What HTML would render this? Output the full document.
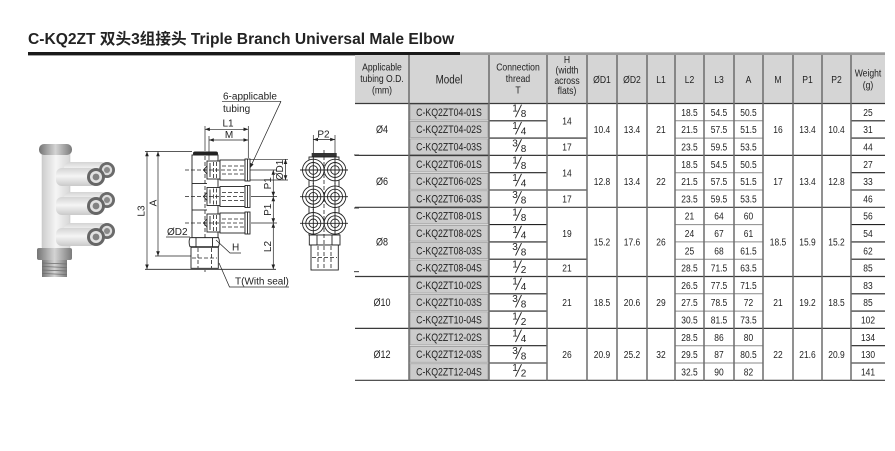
<!DOCTYPE html>
<html>
<head>
<meta charset="utf-8">
<style>
html,body{margin:0;padding:0;background:#fff;}
svg{display:block;}
.f{font-family:"Liberation Sans","Noto Sans CJK SC",sans-serif;fill:#222;}
.ln{stroke:#222;stroke-width:0.9;fill:none;}
.lw{stroke:#222;stroke-width:0.9;fill:#fff;}
.ds{stroke:#222;stroke-width:0.8;stroke-dasharray:4 2;fill:none;}
.dim{stroke:#222;stroke-width:0.7;fill:none;}
</style>
</head>
<body>
<svg width="895" height="451" viewBox="0 0 895 451" xmlns="http://www.w3.org/2000/svg">
<defs>
<marker id="ar" viewBox="0 0 8 6" refX="8" refY="3" markerWidth="5" markerHeight="3.6" orient="auto-start-reverse" markerUnits="userSpaceOnUse"><path d="M0,0 L8,3 L0,6z" fill="#222"/></marker>
<linearGradient id="gb" x1="0" y1="0" x2="1" y2="0"><stop offset="0" stop-color="#cdcdcd"/><stop offset="0.5" stop-color="#f5f5f5"/><stop offset="1" stop-color="#d6d6d6"/></linearGradient>
<linearGradient id="gv" x1="0" y1="0" x2="0" y2="1"><stop offset="0" stop-color="#d4d4d4"/><stop offset="0.45" stop-color="#f5f5f5"/><stop offset="1" stop-color="#cacaca"/></linearGradient>
<linearGradient id="gm" x1="0" y1="0" x2="1" y2="0"><stop offset="0" stop-color="#747474"/><stop offset="0.5" stop-color="#d4d4d4"/><stop offset="1" stop-color="#7a7a7a"/></linearGradient>
</defs>
<rect width="895" height="451" fill="#fff"/>

<!-- Title -->
<text class="f" x="28" y="44" font-size="15.6" font-weight="bold" fill="#1a1a1a">C-KQ2ZT 双头3组接头 Triple Branch Universal Male Elbow</text>
<rect x="28" y="52" width="432" height="3.4" fill="#1a1a1a"/>
<rect x="460" y="52.3" width="425" height="2.8" fill="#9a9a9a"/>

<!-- Photo -->
<g>
<rect x="42" y="150" width="28" height="100" rx="3" fill="url(#gb)" stroke="#c4c4c4" stroke-width="0.5"/>
<rect x="39" y="144" width="33" height="11" rx="5" fill="url(#gm)"/>
<!-- row 1 -->
<rect x="64" y="162" width="43" height="16" rx="6" fill="url(#gv)"/>
<circle cx="107" cy="170" r="8" fill="#6a6a6a"/><circle cx="107" cy="170" r="5.2" fill="#dcdcdc"/><circle cx="107" cy="170" r="3" fill="#8a8a8a"/>
<rect x="56" y="168" width="40" height="18" rx="6" fill="url(#gv)"/>
<circle cx="96" cy="177" r="9" fill="#666"/><circle cx="96" cy="177" r="6" fill="#e2e2e2"/><circle cx="96" cy="177" r="3.4" fill="#828282"/>
<!-- row 2 -->
<rect x="64" y="192" width="43" height="16" rx="6" fill="url(#gv)"/>
<circle cx="107" cy="200" r="8" fill="#6a6a6a"/><circle cx="107" cy="200" r="5.2" fill="#dcdcdc"/><circle cx="107" cy="200" r="3" fill="#8a8a8a"/>
<rect x="56" y="197" width="40" height="18" rx="6" fill="url(#gv)"/>
<circle cx="96" cy="206" r="9" fill="#666"/><circle cx="96" cy="206" r="6" fill="#e2e2e2"/><circle cx="96" cy="206" r="3.4" fill="#828282"/>
<!-- row 3 -->
<rect x="64" y="223" width="43" height="16" rx="6" fill="url(#gv)"/>
<circle cx="107" cy="231" r="8" fill="#6a6a6a"/><circle cx="107" cy="231" r="5.2" fill="#dcdcdc"/><circle cx="107" cy="231" r="3" fill="#8a8a8a"/>
<rect x="56" y="228" width="40" height="18" rx="6" fill="url(#gv)"/>
<circle cx="96" cy="237" r="9" fill="#666"/><circle cx="96" cy="237" r="6" fill="#e2e2e2"/><circle cx="96" cy="237" r="3.4" fill="#828282"/>
<!-- hex & thread -->
<rect x="37" y="248" width="35" height="12" rx="2" fill="url(#gm)"/>
<rect x="42" y="260" width="25" height="17" fill="url(#gm)"/>
<g stroke="#6f6f6f" stroke-width="0.8"><line x1="42" y1="263" x2="67" y2="264"/><line x1="42" y1="266.5" x2="67" y2="267.5"/><line x1="42" y1="270" x2="67" y2="271"/><line x1="42" y1="273.5" x2="67" y2="274.5"/></g>
</g>

<!-- Middle drawing -->
<g>
<line class="dim" x1="145" y1="151.5" x2="192" y2="151.5"/>
<line class="dim" x1="147" y1="151.5" x2="147" y2="269.3" marker-start="url(#ar)" marker-end="url(#ar)"/>
<line class="dim" x1="158" y1="151.5" x2="158" y2="256" marker-start="url(#ar)" marker-end="url(#ar)"/>
<line class="dim" x1="155" y1="256" x2="191" y2="256"/>
<line class="ln" x1="145" y1="269.3" x2="276" y2="269.3"/>
<text class="f" font-size="10" text-anchor="middle" transform="translate(141,211) rotate(-90)" dy="3.5">L3</text>
<text class="f" font-size="10" text-anchor="middle" transform="translate(153,203) rotate(-90)" dy="3.5">A</text>

<rect class="lw" x="192" y="155" width="26" height="82.7"/>
<rect x="193" y="151.5" width="25" height="4" rx="2" fill="#222"/>
<line class="ln" x1="192" y1="183.5" x2="207" y2="183.5"/>
<line class="ln" x1="192" y1="210" x2="207" y2="210"/>
<line class="ds" x1="205" y1="156" x2="205" y2="272"/>

<g transform="translate(0,170)">
<rect class="lw" x="207" y="-9" width="13" height="18"/>
<path class="ln" d="M207,-4 L203.5,0 L207,4"/>
<line class="ln" x1="210" y1="-7" x2="210" y2="7"/>
<line class="ds" x1="213.5" y1="-8" x2="213.5" y2="8"/>
<line class="ds" x1="216.5" y1="-8" x2="216.5" y2="8"/>
<rect class="lw" x="220" y="-10" width="25" height="20"/>
<line class="ds" x1="222" y1="-4" x2="244" y2="-4"/>
<line class="ds" x1="222" y1="4" x2="244" y2="4"/>
<rect class="lw" x="245" y="-11" width="5" height="22"/>
<line class="ln" x1="247.5" y1="-11" x2="247.5" y2="11"/>
<line class="ds" x1="185" y1="0" x2="245" y2="0"/>
</g>
<g transform="translate(0,196.5)">
<rect class="lw" x="207" y="-9" width="13" height="18"/>
<path class="ln" d="M207,-4 L203.5,0 L207,4"/>
<line class="ln" x1="210" y1="-7" x2="210" y2="7"/>
<line class="ds" x1="213.5" y1="-8" x2="213.5" y2="8"/>
<line class="ds" x1="216.5" y1="-8" x2="216.5" y2="8"/>
<rect class="lw" x="220" y="-10" width="25" height="20"/>
<line class="ds" x1="222" y1="-4" x2="244" y2="-4"/>
<line class="ds" x1="222" y1="4" x2="244" y2="4"/>
<rect class="lw" x="245" y="-11" width="5" height="22"/>
<line class="ln" x1="247.5" y1="-11" x2="247.5" y2="11"/>
<line class="ds" x1="185" y1="0" x2="245" y2="0"/>
</g>
<g transform="translate(0,223)">
<rect class="lw" x="207" y="-9" width="13" height="18"/>
<path class="ln" d="M207,-4 L203.5,0 L207,4"/>
<line class="ln" x1="210" y1="-7" x2="210" y2="7"/>
<line class="ds" x1="213.5" y1="-8" x2="213.5" y2="8"/>
<line class="ds" x1="216.5" y1="-8" x2="216.5" y2="8"/>
<rect class="lw" x="220" y="-10" width="25" height="20"/>
<line class="ds" x1="222" y1="-4" x2="244" y2="-4"/>
<line class="ds" x1="222" y1="4" x2="244" y2="4"/>
<rect class="lw" x="245" y="-11" width="5" height="22"/>
<line class="ln" x1="247.5" y1="-11" x2="247.5" y2="11"/>
<line class="ds" x1="185" y1="0" x2="245" y2="0"/>
</g>

<path class="lw" d="M190,237.7 H218.5 Q220.3,242 218.5,246.7 H190 Q188.2,242 190,237.7 Z"/>
<line class="ln" x1="196" y1="237.7" x2="196" y2="246.7"/>
<line class="ln" x1="212.5" y1="237.7" x2="212.5" y2="246.7"/>
<rect class="lw" x="191" y="247.3" width="27.3" height="21"/>
<line class="ds" x1="198" y1="248" x2="198" y2="268"/>
<line class="ds" x1="211.5" y1="248" x2="211.5" y2="268"/>
<line class="ds" x1="192" y1="258" x2="217" y2="258"/>

<line class="dim" x1="205" y1="126" x2="205" y2="151"/>
<line class="dim" x1="248.3" y1="126" x2="248.3" y2="158"/>
<line class="dim" x1="209" y1="136" x2="209" y2="160"/>
<line class="dim" x1="205" y1="129.3" x2="248.3" y2="129.3" marker-start="url(#ar)" marker-end="url(#ar)"/>
<line class="dim" x1="209" y1="140" x2="248.3" y2="140" marker-start="url(#ar)" marker-end="url(#ar)"/>
<text class="f" font-size="10" x="228" y="126.3" text-anchor="middle">L1</text>
<text class="f" font-size="10" x="229" y="138" text-anchor="middle">M</text>

<text class="f" font-size="10" x="223" y="99.5">6-applicable</text>
<text class="f" font-size="10" x="223" y="112">tubing</text>
<line class="dim" x1="222" y1="101.3" x2="281" y2="101.3"/>
<line class="dim" x1="281" y1="101.3" x2="250" y2="168" marker-end="url(#ar)"/>

<line class="dim" x1="250" y1="159.3" x2="288" y2="159.3"/>
<line class="dim" x1="250" y1="180" x2="288" y2="180"/>
<line class="dim" x1="285.5" y1="159.3" x2="285.5" y2="180" marker-start="url(#ar)" marker-end="url(#ar)"/>
<text class="f" font-size="10" text-anchor="middle" transform="translate(279.5,170) rotate(-90)" dy="3.5">ØD1</text>

<line class="dim" x1="250" y1="170" x2="277" y2="170"/>
<line class="dim" x1="251" y1="196.5" x2="277" y2="196.5"/>
<line class="dim" x1="251" y1="223" x2="277" y2="223"/>
<line class="dim" x1="273.3" y1="170" x2="273.3" y2="196.5" marker-start="url(#ar)" marker-end="url(#ar)"/>
<line class="dim" x1="273.3" y1="196.5" x2="273.3" y2="223" marker-start="url(#ar)" marker-end="url(#ar)"/>
<line class="dim" x1="273.3" y1="223" x2="273.3" y2="269.3" marker-start="url(#ar)" marker-end="url(#ar)"/>
<text class="f" font-size="10" text-anchor="middle" transform="translate(267.5,183.3) rotate(-90)" dy="3.5">P1</text>
<text class="f" font-size="10" text-anchor="middle" transform="translate(267.5,209.8) rotate(-90)" dy="3.5">P1</text>
<text class="f" font-size="10" text-anchor="middle" transform="translate(267.5,246.5) rotate(-90)" dy="3.5">L2</text>

<text class="f" font-size="10" x="167" y="235">ØD2</text>
<line class="dim" x1="166" y1="237" x2="190" y2="237"/>
<text class="f" font-size="10" x="232" y="250.5">H</text>
<path class="dim" d="M216,240 L230,253 H241"/>
<text class="f" font-size="10" x="235" y="284.5">T(With seal)</text>
<path class="dim" d="M219,263 L229.5,287 H289"/>
</g>

<!-- Right drawing -->
<g>
<text class="f" font-size="10" x="323.5" y="137.3" text-anchor="middle">P2</text>
<line class="dim" x1="313.3" y1="135" x2="313.3" y2="153"/>
<line class="dim" x1="335" y1="135" x2="335" y2="153"/>
<line class="dim" x1="313.3" y1="139.5" x2="335" y2="139.5" marker-start="url(#ar)" marker-end="url(#ar)"/>
<rect x="311.7" y="153" width="25" height="4" fill="#333"/>
<rect class="lw" x="309" y="157" width="30" height="78"/>
<g class="lw">
<circle cx="313.3" cy="170" r="10.8"/><circle cx="335" cy="170" r="10.8"/>
<circle cx="313.3" cy="196.7" r="10.8"/><circle cx="335" cy="196.7" r="10.8"/>
<circle cx="313.3" cy="223.3" r="10.8"/><circle cx="335" cy="223.3" r="10.8"/>
</g>
<g class="ln">
<circle cx="313.3" cy="170" r="7.5"/><circle cx="335" cy="170" r="7.5"/>
<circle cx="313.3" cy="196.7" r="7.5"/><circle cx="335" cy="196.7" r="7.5"/>
<circle cx="313.3" cy="223.3" r="7.5"/><circle cx="335" cy="223.3" r="7.5"/>
<circle cx="313.3" cy="170" r="4.3"/><circle cx="335" cy="170" r="4.3"/>
<circle cx="313.3" cy="196.7" r="4.3"/><circle cx="335" cy="196.7" r="4.3"/>
<circle cx="313.3" cy="223.3" r="4.3"/><circle cx="335" cy="223.3" r="4.3"/>
<line x1="300" y1="170" x2="348" y2="170"/>
<line x1="300" y1="196.7" x2="348" y2="196.7"/>
<line x1="300" y1="223.3" x2="348" y2="223.3"/>
<line x1="313.3" y1="156" x2="313.3" y2="184"/><line x1="335" y1="156" x2="335" y2="184"/>
<line x1="313.3" y1="183" x2="313.3" y2="210"/><line x1="335" y1="183" x2="335" y2="210"/>
<line x1="313.3" y1="209" x2="313.3" y2="237"/><line x1="335" y1="209" x2="335" y2="237"/>
</g>
<rect class="lw" x="309.3" y="235" width="30.7" height="10"/>
<line class="ln" x1="317" y1="235" x2="317" y2="245"/>
<line class="ln" x1="332" y1="235" x2="332" y2="245"/>
<rect class="lw" x="311" y="245" width="27.3" height="25"/>
<line class="ds" x1="318" y1="246" x2="318" y2="269"/>
<line class="ds" x1="331" y1="246" x2="331" y2="269"/>
<line class="ds" x1="312" y1="257.5" x2="337" y2="257.5"/>
<line class="ds" x1="324" y1="150" x2="324" y2="270"/>
<g stroke="#222" stroke-width="0.9"><line x1="354" y1="155" x2="359" y2="155"/><line x1="354" y1="208" x2="359" y2="208"/><line x1="354" y1="271.7" x2="359" y2="271.7"/></g>
</g>

<!-- TABLE -->
<rect x="355" y="55" width="530" height="48.5" fill="#d5d5d5"/>
<g fill="#cbcbcb" stroke="#999" stroke-width="0.8">
<rect x="410" y="104.2" width="78" height="15.9"/>
<rect x="410" y="121.5" width="78" height="15.9"/>
<rect x="410" y="138.8" width="78" height="15.9"/>
<rect x="410" y="156.1" width="78" height="15.9"/>
<rect x="410" y="173.4" width="78" height="15.9"/>
<rect x="410" y="190.7" width="78" height="15.9"/>
<rect x="410" y="208.0" width="78" height="15.9"/>
<rect x="410" y="225.3" width="78" height="15.9"/>
<rect x="410" y="242.6" width="78" height="15.9"/>
<rect x="410" y="259.9" width="78" height="15.9"/>
<rect x="410" y="277.2" width="78" height="15.9"/>
<rect x="410" y="294.5" width="78" height="15.9"/>
<rect x="410" y="311.8" width="78" height="15.9"/>
<rect x="410" y="329.1" width="78" height="15.9"/>
<rect x="410" y="346.4" width="78" height="15.9"/>
<rect x="410" y="363.7" width="78" height="15.9"/>
</g>
<g stroke="#222" stroke-width="1.1">
<line x1="489" y1="120.8" x2="547" y2="120.8"/><line x1="489" y1="138.1" x2="547" y2="138.1"/>
<line x1="489" y1="172.7" x2="547" y2="172.7"/><line x1="489" y1="190" x2="547" y2="190"/>
<line x1="489" y1="224.6" x2="547" y2="224.6"/><line x1="489" y1="241.9" x2="547" y2="241.9"/><line x1="489" y1="259.2" x2="547" y2="259.2"/>
<line x1="489" y1="293.8" x2="547" y2="293.8"/><line x1="489" y1="311.1" x2="547" y2="311.1"/>
<line x1="489" y1="345.7" x2="547" y2="345.7"/><line x1="489" y1="363" x2="547" y2="363"/>
<line x1="547" y1="138.1" x2="587" y2="138.1"/><line x1="547" y1="190" x2="587" y2="190"/><line x1="547" y1="259.2" x2="587" y2="259.2"/>
<line x1="851" y1="120.8" x2="885" y2="120.8"/><line x1="851" y1="138.1" x2="885" y2="138.1"/>
<line x1="851" y1="172.7" x2="885" y2="172.7"/><line x1="851" y1="190" x2="885" y2="190"/>
<line x1="851" y1="224.6" x2="885" y2="224.6"/><line x1="851" y1="241.9" x2="885" y2="241.9"/><line x1="851" y1="259.2" x2="885" y2="259.2"/>
<line x1="851" y1="293.8" x2="885" y2="293.8"/><line x1="851" y1="311.1" x2="885" y2="311.1"/>
<line x1="851" y1="345.7" x2="885" y2="345.7"/><line x1="851" y1="363" x2="885" y2="363"/>
</g>
<g stroke="#8a8a8a" stroke-width="1">
<line x1="675" y1="120.8" x2="763" y2="120.8"/><line x1="675" y1="138.1" x2="763" y2="138.1"/>
<line x1="675" y1="172.7" x2="763" y2="172.7"/><line x1="675" y1="190" x2="763" y2="190"/>
<line x1="675" y1="224.6" x2="763" y2="224.6"/><line x1="675" y1="241.9" x2="763" y2="241.9"/><line x1="675" y1="259.2" x2="763" y2="259.2"/>
<line x1="675" y1="293.8" x2="763" y2="293.8"/><line x1="675" y1="311.1" x2="763" y2="311.1"/>
<line x1="675" y1="345.7" x2="763" y2="345.7"/><line x1="675" y1="363" x2="763" y2="363"/>
</g>
<g stroke="#3a3a3a" stroke-width="1.2">
<line x1="355" y1="103.5" x2="885" y2="103.5"/>
<line x1="355" y1="155.4" x2="885" y2="155.4"/>
<line x1="355" y1="207.3" x2="885" y2="207.3"/>
<line x1="355" y1="276.5" x2="885" y2="276.5"/>
<line x1="355" y1="328.4" x2="885" y2="328.4"/>
<line x1="355" y1="380.3" x2="885" y2="380.3"/>
</g>
<g stroke="#6d6d6d" stroke-width="1.5">
<line x1="409" y1="55" x2="409" y2="380.3"/><line x1="489" y1="55" x2="489" y2="380.3"/>
<line x1="547" y1="55" x2="547" y2="380.3"/><line x1="587" y1="55" x2="587" y2="380.3"/>
<line x1="617" y1="55" x2="617" y2="380.3"/><line x1="647" y1="55" x2="647" y2="380.3"/>
<line x1="675" y1="55" x2="675" y2="380.3"/><line x1="704" y1="55" x2="704" y2="380.3"/>
<line x1="734" y1="55" x2="734" y2="380.3"/><line x1="763" y1="55" x2="763" y2="380.3"/>
<line x1="793" y1="55" x2="793" y2="380.3"/><line x1="822" y1="55" x2="822" y2="380.3"/>
<line x1="851" y1="55" x2="851" y2="380.3"/>
</g>

<g class="f" transform="scale(0.82,1)" text-anchor="middle" font-size="10.3">
<g font-size="10.5">
<text x="465.85" y="70.7">Applicable</text><text x="465.85" y="82.2">tubing O.D.</text><text x="465.85" y="93.7">(mm)</text>
<text x="547.56" y="83.3" font-size="12">Model</text>
<text x="631.71" y="70.7">Connection</text><text x="631.71" y="82.2">thread</text><text x="631.71" y="93.7">T</text>
<text x="691.46" y="63.2">H</text><text x="691.46" y="73.5">(width</text><text x="691.46" y="83.8">across</text><text x="691.46" y="94.1">flats)</text>
<text x="734.15" y="82.8">ØD1</text><text x="770.73" y="82.8">ØD2</text><text x="806.10" y="82.8">L1</text>
<text x="840.85" y="82.8">L2</text><text x="876.83" y="82.8">L3</text><text x="912.80" y="82.8">A</text>
<text x="948.78" y="82.8">M</text><text x="984.76" y="82.8">P1</text><text x="1020.12" y="82.8">P2</text>
<text x="1058.54" y="76.5">Weight</text><text x="1058.54" y="88.5">(g)</text>
</g>

<g transform="translate(0,115.85)"><text x="547.56" font-size="10.7">C-KQ2ZT04-01S</text><text x="840.85">18.5</text><text x="876.83">54.5</text><text x="912.80">50.5</text><text x="1058.54">25</text></g>
<g transform="translate(0,133.15)"><text x="547.56" font-size="10.7">C-KQ2ZT04-02S</text><text x="840.85">21.5</text><text x="876.83">57.5</text><text x="912.80">51.5</text><text x="1058.54">31</text></g>
<g transform="translate(0,150.45)"><text x="547.56" font-size="10.7">C-KQ2ZT04-03S</text><text x="840.85">23.5</text><text x="876.83">59.5</text><text x="912.80">53.5</text><text x="1058.54">44</text></g>
<g transform="translate(0,167.75)"><text x="547.56" font-size="10.7">C-KQ2ZT06-01S</text><text x="840.85">18.5</text><text x="876.83">54.5</text><text x="912.80">50.5</text><text x="1058.54">27</text></g>
<g transform="translate(0,185.05)"><text x="547.56" font-size="10.7">C-KQ2ZT06-02S</text><text x="840.85">21.5</text><text x="876.83">57.5</text><text x="912.80">51.5</text><text x="1058.54">33</text></g>
<g transform="translate(0,202.35)"><text x="547.56" font-size="10.7">C-KQ2ZT06-03S</text><text x="840.85">23.5</text><text x="876.83">59.5</text><text x="912.80">53.5</text><text x="1058.54">46</text></g>
<g transform="translate(0,219.65)"><text x="547.56" font-size="10.7">C-KQ2ZT08-01S</text><text x="840.85">21</text><text x="876.83">64</text><text x="912.80">60</text><text x="1058.54">56</text></g>
<g transform="translate(0,236.95)"><text x="547.56" font-size="10.7">C-KQ2ZT08-02S</text><text x="840.85">24</text><text x="876.83">67</text><text x="912.80">61</text><text x="1058.54">54</text></g>
<g transform="translate(0,254.25)"><text x="547.56" font-size="10.7">C-KQ2ZT08-03S</text><text x="840.85">25</text><text x="876.83">68</text><text x="912.80">61.5</text><text x="1058.54">62</text></g>
<g transform="translate(0,271.55)"><text x="547.56" font-size="10.7">C-KQ2ZT08-04S</text><text x="840.85">28.5</text><text x="876.83">71.5</text><text x="912.80">63.5</text><text x="1058.54">85</text></g>
<g transform="translate(0,288.85)"><text x="547.56" font-size="10.7">C-KQ2ZT10-02S</text><text x="840.85">26.5</text><text x="876.83">77.5</text><text x="912.80">71.5</text><text x="1058.54">83</text></g>
<g transform="translate(0,306.15)"><text x="547.56" font-size="10.7">C-KQ2ZT10-03S</text><text x="840.85">27.5</text><text x="876.83">78.5</text><text x="912.80">72</text><text x="1058.54">85</text></g>
<g transform="translate(0,323.45)"><text x="547.56" font-size="10.7">C-KQ2ZT10-04S</text><text x="840.85">30.5</text><text x="876.83">81.5</text><text x="912.80">73.5</text><text x="1058.54">102</text></g>
<g transform="translate(0,340.75)"><text x="547.56" font-size="10.7">C-KQ2ZT12-02S</text><text x="840.85">28.5</text><text x="876.83">86</text><text x="912.80">80</text><text x="1058.54">134</text></g>
<g transform="translate(0,358.05)"><text x="547.56" font-size="10.7">C-KQ2ZT12-03S</text><text x="840.85">29.5</text><text x="876.83">87</text><text x="912.80">80.5</text><text x="1058.54">130</text></g>
<g transform="translate(0,375.35)"><text x="547.56" font-size="10.7">C-KQ2ZT12-04S</text><text x="840.85">32.5</text><text x="876.83">90</text><text x="912.80">82</text><text x="1058.54">141</text></g>

<text x="691.46" y="124.5">14</text><text x="691.46" y="150.45">17</text>
<text x="691.46" y="176.4">14</text><text x="691.46" y="202.35">17</text>
<text x="691.46" y="236.95">19</text><text x="691.46" y="271.55">21</text>
<text x="691.46" y="306.15">21</text>
<text x="691.46" y="358.05">26</text>

<g transform="translate(0,133.15)"><text x="465.85" font-size="11">Ø4</text><text x="734.15">10.4</text><text x="770.73">13.4</text><text x="806.10">21</text><text x="948.78">16</text><text x="984.76">13.4</text><text x="1020.12">10.4</text></g>
<g transform="translate(0,185.05)"><text x="465.85" font-size="11">Ø6</text><text x="734.15">12.8</text><text x="770.73">13.4</text><text x="806.10">22</text><text x="948.78">17</text><text x="984.76">13.4</text><text x="1020.12">12.8</text></g>
<g transform="translate(0,245.6)"><text x="465.85" font-size="11">Ø8</text><text x="734.15">15.2</text><text x="770.73">17.6</text><text x="806.10">26</text><text x="948.78">18.5</text><text x="984.76">15.9</text><text x="1020.12">15.2</text></g>
<g transform="translate(0,306.15)"><text x="465.85" font-size="11">Ø10</text><text x="734.15">18.5</text><text x="770.73">20.6</text><text x="806.10">29</text><text x="948.78">21</text><text x="984.76">19.2</text><text x="1020.12">18.5</text></g>
<g transform="translate(0,358.05)"><text x="465.85" font-size="11">Ø12</text><text x="734.15">20.9</text><text x="770.73">25.2</text><text x="806.10">32</text><text x="948.78">22</text><text x="984.76">21.6</text><text x="1020.12">20.9</text></g>
</g>

<g class="f" font-size="10" text-anchor="middle">
<g transform="translate(518,112.15)"><text x="-3" y="-0.5">1</text><line class="ln" x1="-2.5" y1="5" x2="3.5" y2="-7.5"/><text x="5.5" y="5">8</text></g>
<g transform="translate(518,129.45)"><text x="-3" y="-0.5">1</text><line class="ln" x1="-2.5" y1="5" x2="3.5" y2="-7.5"/><text x="5.5" y="5">4</text></g>
<g transform="translate(518,146.75)"><text x="-3" y="-0.5">3</text><line class="ln" x1="-2.5" y1="5" x2="3.5" y2="-7.5"/><text x="5.5" y="5">8</text></g>
<g transform="translate(518,164.05)"><text x="-3" y="-0.5">1</text><line class="ln" x1="-2.5" y1="5" x2="3.5" y2="-7.5"/><text x="5.5" y="5">8</text></g>
<g transform="translate(518,181.35)"><text x="-3" y="-0.5">1</text><line class="ln" x1="-2.5" y1="5" x2="3.5" y2="-7.5"/><text x="5.5" y="5">4</text></g>
<g transform="translate(518,198.65)"><text x="-3" y="-0.5">3</text><line class="ln" x1="-2.5" y1="5" x2="3.5" y2="-7.5"/><text x="5.5" y="5">8</text></g>
<g transform="translate(518,215.95)"><text x="-3" y="-0.5">1</text><line class="ln" x1="-2.5" y1="5" x2="3.5" y2="-7.5"/><text x="5.5" y="5">8</text></g>
<g transform="translate(518,233.25)"><text x="-3" y="-0.5">1</text><line class="ln" x1="-2.5" y1="5" x2="3.5" y2="-7.5"/><text x="5.5" y="5">4</text></g>
<g transform="translate(518,250.55)"><text x="-3" y="-0.5">3</text><line class="ln" x1="-2.5" y1="5" x2="3.5" y2="-7.5"/><text x="5.5" y="5">8</text></g>
<g transform="translate(518,267.85)"><text x="-3" y="-0.5">1</text><line class="ln" x1="-2.5" y1="5" x2="3.5" y2="-7.5"/><text x="5.5" y="5">2</text></g>
<g transform="translate(518,285.15)"><text x="-3" y="-0.5">1</text><line class="ln" x1="-2.5" y1="5" x2="3.5" y2="-7.5"/><text x="5.5" y="5">4</text></g>
<g transform="translate(518,302.45)"><text x="-3" y="-0.5">3</text><line class="ln" x1="-2.5" y1="5" x2="3.5" y2="-7.5"/><text x="5.5" y="5">8</text></g>
<g transform="translate(518,319.75)"><text x="-3" y="-0.5">1</text><line class="ln" x1="-2.5" y1="5" x2="3.5" y2="-7.5"/><text x="5.5" y="5">2</text></g>
<g transform="translate(518,337.05)"><text x="-3" y="-0.5">1</text><line class="ln" x1="-2.5" y1="5" x2="3.5" y2="-7.5"/><text x="5.5" y="5">4</text></g>
<g transform="translate(518,354.35)"><text x="-3" y="-0.5">3</text><line class="ln" x1="-2.5" y1="5" x2="3.5" y2="-7.5"/><text x="5.5" y="5">8</text></g>
<g transform="translate(518,371.65)"><text x="-3" y="-0.5">1</text><line class="ln" x1="-2.5" y1="5" x2="3.5" y2="-7.5"/><text x="5.5" y="5">2</text></g>
</g>
</svg>
</body>
</html>
